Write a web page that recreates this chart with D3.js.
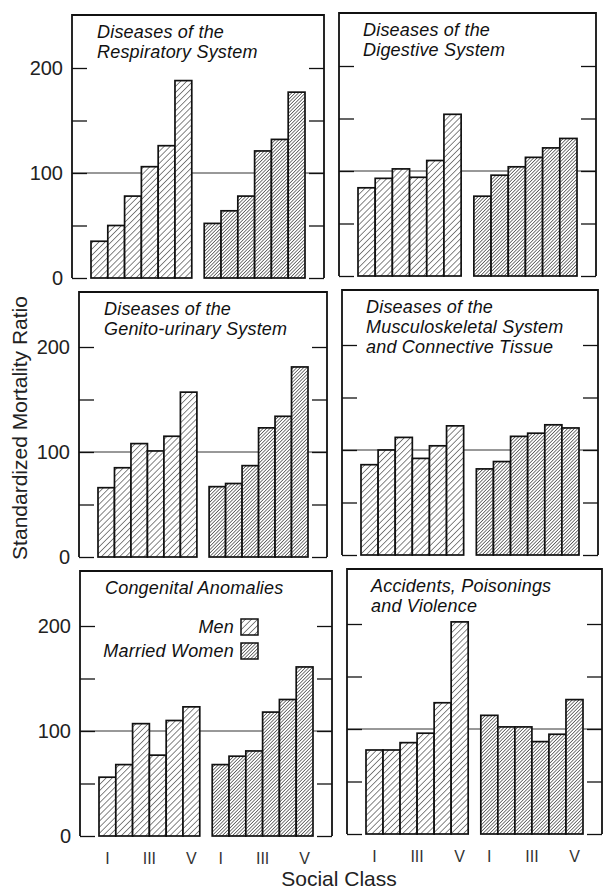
<!DOCTYPE html>
<html>
<head>
<meta charset="utf-8">
<script src="https://cdn.jsdelivr.net/npm/d3@7"></script>
<style>
  body { margin: 0; background: #fff; }
  svg { font-family: "Liberation Sans", Arial, Helvetica, sans-serif; }
  .title { font-style: italic; font-size: 18px; letter-spacing: 0.2px; fill: #111; }
  .tick text { font-size: 20px; fill: #222; }
</style>
</head>
<body>
<div id="chart"></div>
<script>

// social classes along each group, and the two groups
var classes = ["I", "II", "IIIN", "IIIM", "IV", "V"];
var groups = ["Men", "Married Women"];
var classLabels = ["I", "III", "V"];
var labelClasses = [["I"], ["IIIN", "IIIM"], ["V"]];
var yTicks = [0, 50, 100, 150, 200];

// panel titles
var titles = [
    ["Diseases of the", "Respiratory System"],
    ["Diseases of the", "Digestive System"],
    ["Diseases of the", "Genito-urinary System"],
    ["Diseases of the", "Musculoskeletal System", "and Connective Tissue"],
    ["Congenital Anomalies"],
    ["Accidents, Poisonings", "and Violence"]
];

// standardized mortality ratios
var respiratoryMen     = [35, 50, 78, 106, 126, 188];
var respiratoryWomen   = [52, 64, 78, 121, 132, 177];
var digestiveMen       = [84, 93, 102, 94, 110, 154];
var digestiveWomen     = [76, 96, 104, 113, 122, 131];
var genitoMen          = [66, 85, 108, 101, 115, 157];
var genitoWomen        = [67, 70, 87, 123, 134, 181];
var musculoMen         = [86, 100, 112, 92, 104, 123];
var musculoWomen       = [82, 89, 113, 116, 124, 121];
var congenitalMen      = [56, 68, 107, 77, 110, 123];
var congenitalWomen    = [68, 76, 81, 118, 130, 161];
var accidentsMen       = [80, 80, 87, 96, 125, 202];
var accidentsWomen     = [113, 102, 102, 88, 95, 128];

var menSeries = [respiratoryMen, digestiveMen, genitoMen, musculoMen, congenitalMen, accidentsMen];
var womenSeries = [respiratoryWomen, digestiveWomen, genitoWomen, musculoWomen, congenitalWomen, accidentsWomen];

// where each panel box sits on the page (the scan is slightly skewed)
var frames = [
    {x0: 72,  x1: 324, top: 15,  zero: 278},
    {x0: 339, x1: 596, top: 13,  zero: 276},
    {x0: 79,  x1: 327, top: 292, zero: 557},
    {x0: 342, x1: 598, top: 290, zero: 555},
    {x0: 80,  x1: 332, top: 571, zero: 836},
    {x0: 347, x1: 602, top: 569, zero: 834}
];

var width = 603, height = 891;

var svg = d3.select("#chart")
    .append("svg")
    .attr("width", width)
    .attr("height", height);

// hatch patterns: open for men, dense for married women
var defs = svg.append("defs");
function hatch(id, spacing, sw) {
    var p = defs.append("pattern")
        .attr("id", id)
        .attr("patternUnits", "userSpaceOnUse")
        .attr("width", spacing)
        .attr("height", spacing)
        .attr("patternTransform", "rotate(45)");
    p.append("rect").attr("width", spacing).attr("height", spacing).attr("fill", "#fff");
    p.append("line")
        .attr("x1", 0).attr("y1", 0)
        .attr("x2", 0).attr("y2", spacing)
        .attr("stroke", "#222")
        .attr("stroke-width", sw);
}
hatch("hatchMen", 4.3, 1.1);
hatch("hatchWomen", 2.4, 1.2);

var fillFor = d3.scaleOrdinal()
    .domain(groups)
    .range(["url(#hatchMen)", "url(#hatchWomen)"]);

frames.forEach(function(f, i) {

    var g = svg.append("g").attr("class", "panel");

    var y = d3.scaleLinear()
        .domain([0, (f.zero - f.top) / 1.05])
        .range([f.zero, f.top]);

    var xGroup = d3.scaleBand()
        .domain(groups)
        .range([f.x0 + 19, f.x1 - 19])
        .paddingInner(0.11);

    var xClass = d3.scaleBand()
        .domain(classes)
        .range([0, xGroup.bandwidth()]);

    // reference line at 100
    g.append("line")
        .attr("x1", f.x0).attr("x2", f.x1)
        .attr("y1", y(100)).attr("y2", y(100))
        .attr("stroke", "#333")
        .attr("stroke-width", 1);

    // left axis, ticks pointing in
    var left = g.append("g")
        .attr("transform", "translate(" + f.x0 + ",0)")
        .call(d3.axisLeft(y)
            .tickValues(yTicks)
            .tickSizeInner(-15)
            .tickSizeOuter(0)
            .tickPadding(9)
            .tickFormat(function(d) { return (i % 2 == 0 && d % 100 == 0) ? d : ""; }));
    left.select(".domain").remove();
    left.selectAll(".tick line").attr("stroke", "#111").attr("stroke-width", 1.3);

    // right axis, ticks pointing in
    var right = g.append("g")
        .attr("transform", "translate(" + f.x1 + ",0)")
        .call(d3.axisRight(y)
            .tickValues(yTicks)
            .tickSizeInner(-15)
            .tickSizeOuter(0)
            .tickFormat(""));
    right.select(".domain").remove();
    right.selectAll(".tick line").attr("stroke", "#111").attr("stroke-width", 1.3);

    // frame: left, top, right
    g.append("path")
        .attr("d", "M" + f.x0 + "," + f.zero + "V" + f.top + "H" + f.x1 + "V" + f.zero)
        .attr("fill", "none")
        .attr("stroke", "#111")
        .attr("stroke-width", 1.8);

    // bars
    var seriesData = [
        {group: "Men", values: menSeries[i]},
        {group: "Married Women", values: womenSeries[i]}
    ];

    g.selectAll("g.grp")
        .data(seriesData)
        .enter().append("g")
        .attr("class", "grp")
        .attr("transform", function(d) { return "translate(" + xGroup(d.group) + ",0)"; })
        .selectAll("rect")
        .data(function(d) {
            return d.values.map(function(v, k) { return {group: d.group, cls: classes[k], value: v}; });
        })
        .enter().append("rect")
        .attr("x", function(d) { return xClass(d.cls); })
        .attr("y", function(d) { return y(d.value); })
        .attr("width", xClass.bandwidth())
        .attr("height", function(d) { return y(0) - y(d.value); })
        .attr("fill", function(d) { return fillFor(d.group); })
        .attr("stroke", "#111")
        .attr("stroke-width", 1.7);

    // title
    var tx = (i % 2 == 0) ? f.x0 + 25 : f.x0 + 24;
    g.append("text")
        .attr("class", "title")
        .attr("x", tx)
        .attr("y", f.top + 23)
        .selectAll("tspan")
        .data(titles[i])
        .enter().append("tspan")
        .attr("x", tx)
        .attr("dy", function(d, k) { return k == 0 ? 0 : 20; })
        .text(function(d) { return d; });

    // class labels under the bottom row
    if (i >= 4) {
        groups.forEach(function(grp) {
            g.selectAll(null)
                .data(classLabels)
                .enter().append("text")
                .attr("x", function(d, k) {
                    var cs = labelClasses[k];
                    var a = xClass(cs[0]), b = xClass(cs[cs.length - 1]) + xClass.bandwidth();
                    return xGroup(grp) + (a + b) / 2;
                })
                .attr("y", f.zero + 28)
                .attr("text-anchor", "middle")
                .style("font-size", "16px")
                .style("fill", "#333")
                .text(function(d) { return d; });
        });
    }

    // legend in the congenital panel
    if (i == 4) {
        var legend = g.selectAll(".legend")
            .data(groups)
            .enter().append("g")
            .attr("class", "legend")
            .attr("transform", function(d, k) { return "translate(0," + (y(200) + 1 + k * 24) + ")"; });
        legend.append("rect")
            .attr("x", 241)
            .attr("y", -8)
            .attr("width", 17)
            .attr("height", 16)
            .attr("fill", function(d) { return fillFor(d); })
            .attr("stroke", "#111")
            .attr("stroke-width", 1.5);
        legend.append("text")
            .attr("class", "title")
            .attr("x", 234)
            .attr("dy", "0.35em")
            .attr("text-anchor", "end")
            .text(function(d) { return d; });
    }
});

// axis titles
svg.append("text")
    .attr("transform", "translate(27,428) rotate(-90)")
    .attr("text-anchor", "middle")
    .style("font-size", "21px")
    .style("fill", "#222")
    .text("Standardized Mortality Ratio");

svg.append("text")
    .attr("x", 339)
    .attr("y", 886)
    .attr("text-anchor", "middle")
    .style("font-size", "21px")
    .style("fill", "#222")
    .text("Social Class");

</script>
</body>
</html>
